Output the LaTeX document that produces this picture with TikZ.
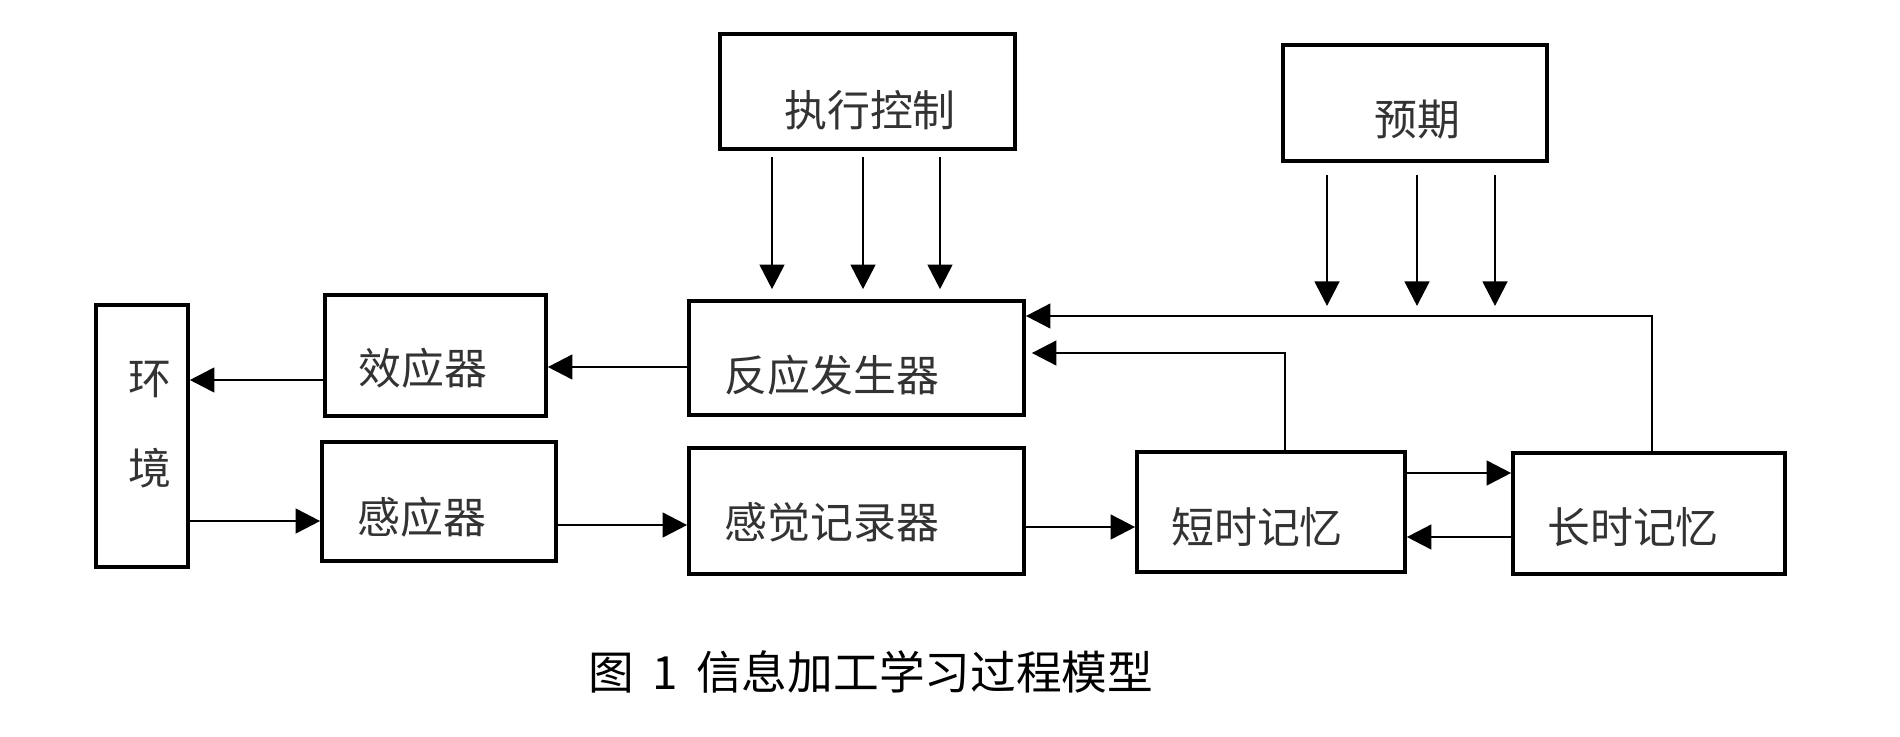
\documentclass[tikz,border=0pt]{standalone}
\usepackage{fontspec}
\setmainfont{Noto Sans CJK SC}
\usepackage{tikz}
\usetikzlibrary{arrows.meta}
\tikzstyle{box} = [draw, line width=1pt, inner sep=0pt]
\tikzstyle{lbl} = [font=\fontsize{12.2}{25.6}\selectfont, text=black!80, inner sep=0pt, align=center]
\tikzstyle{arr} = [line width=0.8pt, -{Triangle[length=7pt,width=7pt]}]

\begin{document}
\begin{tikzpicture}[x=0.01cm, y=-0.01cm]
		\useasboundingbox (0,0) rectangle (1900,736);
		% boxes
		\node[box, minimum width=0.92cm, minimum height=2.62cm] (huanjing) at (142,436) {};
		\node[box, minimum width=2.21cm, minimum height=1.21cm] (xiaoying) at (435.5,355.5) {};
		\node[box, minimum width=2.34cm, minimum height=1.19cm] (ganying) at (439,501.5) {};
		\node[box, minimum width=3.35cm, minimum height=1.14cm] (fanying) at (856.5,358) {};
		\node[box, minimum width=3.35cm, minimum height=1.26cm] (ganjue) at (856.5,511) {};
		\node[box, minimum width=2.95cm, minimum height=1.15cm] (zhixing) at (867.5,91.5) {};
		\node[box, minimum width=2.64cm, minimum height=1.16cm] (yuqi) at (1415,103) {};
		\node[box, minimum width=2.68cm, minimum height=1.20cm] (duanshi) at (1271,512) {};
		\node[box, minimum width=2.72cm, minimum height=1.21cm] (changshi) at (1649,513.5) {};
		% texts
		\node[lbl] (huanjing-t) at (150,425) {环\\境};
		\node[lbl] (xiaoying-t) at (423,368) {效应器};
		\node[lbl] (ganying-t) at (422,517) {感应器};
		\node[lbl] (fanying-t) at (832,375) {反应发生器};
		\node[lbl] (ganjue-t) at (832,522) {感觉记录器};
		\node[lbl] (zhixing-t) at (870,110) {执行控制};
		\node[lbl] (yuqi-t) at (1417,120) {预期};
		\node[lbl] (duanshi-t) at (1257,527) {短时记忆};
		\node[lbl] (changshi-t) at (1633,527) {长时记忆};
		\node[font=\fontsize{13}{15}\selectfont, inner sep=0pt] (caption) at (871,672) {图\hspace{0.4em}1\hspace{0.4em}信息加工学习过程模型};

		% connectors
		\draw[arr] (fanying.west |- 0,367) -- (xiaoying.east |- 0,367);
		\draw[arr] (xiaoying.west |- 0,380) -- (huanjing.east |- 0,380);
		\draw[arr] (huanjing.east |- 0,521) -- (ganying.west |- 0,521);
		\draw[arr] (ganying.east |- 0,525) -- (ganjue.west |- 0,525);
		\draw[arr] (ganjue.east |- 0,527) -- (duanshi.west |- 0,527);
		\draw[arr] (duanshi.east |- 0,473) -- (changshi.west |- 0,473);
		\draw[arr] (changshi.west |- 0,537) -- (duanshi.east |- 0,537);
		\draw[arr, shorten >=0.06cm] (duanshi.north -| 1285,0) |- (fanying.east |- 0,353);
		\draw[arr] (changshi.north -| 1652,0) |- (fanying.east |- 0,316);
		\coordinate (bus) at (1652,316);
		\foreach \x in {772,863,940}
			\draw[arr, shorten <=0.06cm, shorten >=0.1cm] (zhixing.south -| \x,0) -- (fanying.north -| \x,0);
		\foreach \x in {1327,1417,1495}
			\draw[arr, shorten <=0.12cm, shorten >=0.1cm] (yuqi.south -| \x,0) -- (bus -| \x,0);
\end{tikzpicture}
\end{document}
